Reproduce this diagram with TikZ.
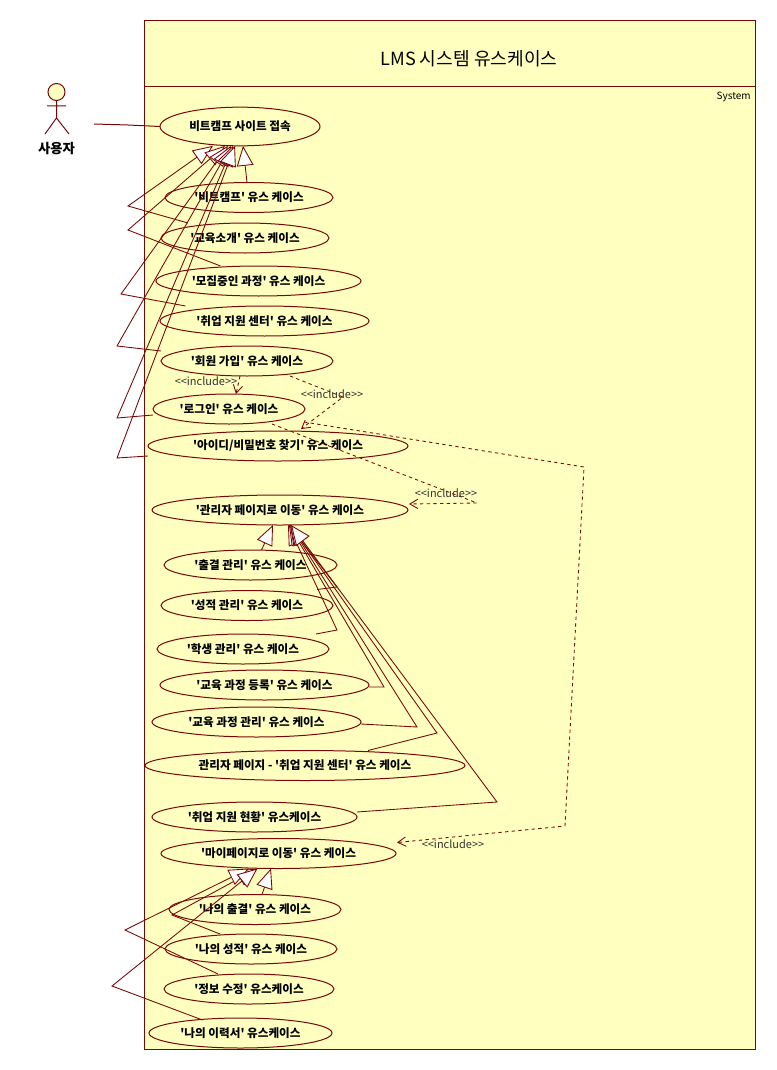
\documentclass[tikz,border=0pt]{standalone}
\usepackage{fontspec}
\setmainfont[Ligatures=TeXOff]{Noto Sans CJK KR}
\usetikzlibrary{arrows.meta,calc,shapes.geometric}
\definecolor{umlLine}{HTML}{780808}
\definecolor{umlFill}{HTML}{FFFFC0}
\tikzset{
	usecase/.style={ellipse, draw=umlLine, line width=.75pt, inner sep=0pt, outer sep=0pt, minimum height=22.5pt, minimum width=#1*1.5pt, font=\fontsize{8.7}{10}\selectfont\bfseries},
	stereo/.style={font=\fontsize{8.25}{10}\selectfont, inner sep=0pt, text=black!80},
	assoc/.style={draw=umlLine, line width=.75pt},
	gener/.style={draw=umlLine, line width=.65pt, -{Triangle[fill=white,length=15pt,width=12.5pt]}, line join=miter},
	incl/.style={draw=umlLine, line width=.65pt, dash pattern=on 2.5pt off 2.5pt, -{Straight Barb[length=6pt,width=7pt]}}
}
\begin{document}
\begin{tikzpicture}[x=.75pt,y=-.75pt]
	\useasboundingbox (0,0) rectangle (776,1070);
	% system boundary
	\draw [assoc, fill=umlFill] (144,21) rectangle (755,1049);
	\draw [assoc] (144,87) -- (755,87);
	\node (sysTitle) at (469,59) {\fontsize{13.6}{15}\selectfont LMS 시스템 유스케이스};
	\node (sysLabel) [anchor=east, inner sep=0pt, font=\fontsize{7.5}{9}\selectfont] at (751,97) {System};
	% actor
	\draw [assoc, fill=umlFill] (56.5,92) circle (8.5);
	\draw [assoc] (56.5,100.5) -- (56.5,118) (47,106) -- (66,106) (45,134) -- (56.5,118) -- (69,134);
	\node (userLabel) [font=\fontsize{10}{11}\selectfont\bfseries] at (56.5,149) {사용자};
	\coordinate (userEnd) at (94,124);
	% use cases
	\node (siteAccess) [usecase=80, minimum height=29pt] at (240,126.5) {비트캠프 사이트 접속};
	\node (bitcamp) [usecase=84] at (249,197.5) {'비트캠프' 유스 케이스};
	\node (eduIntro) [usecase=84] at (245,238) {'교육소개' 유스 케이스};
	\node (recruit) [usecase=102.5] at (258.5,281) {'모집중인 과정' 유스 케이스};
	\node (jobCenter) [usecase=104.5] at (264.5,321) {'취업 지원 센터' 유스 케이스};
	\node (join) [usecase=86] at (247,361) {'회원 가입' 유스 케이스};
	\node (login) [usecase=76] at (229,409) {'로그인' 유스 케이스};
	\node (findId) [usecase=130] at (278,446) {'아이디/비밀번호 찾기' 유스 케이스};
	\node (adminMove) [usecase=128] at (280,510) {'관리자 페이지로 이동' 유스 케이스};
	\node (attend) [usecase=86.5] at (250.5,565) {'출결 관리' 유스 케이스};
	\node (grade) [usecase=86] at (247,605.5) {'성적 관리' 유스 케이스};
	\node (student) [usecase=86] at (243,649) {'학생 관리' 유스 케이스};
	\node (courseReg) [usecase=104.5] at (264.5,685) {'교육 과정 등록' 유스 케이스};
	\node (courseMng) [usecase=104.5] at (256.5,722) {'교육 과정 관리' 유스 케이스};
	\node (adminJob) [usecase=160] at (305,765.5) {관리자 페이지 - '취업 지원 센터' 유스 케이스};
	\node (jobStatus) [usecase=102.5] at (254.5,817) {'취업 지원 현황' 유스케이스};
	\node (myPage) [usecase=117.5] at (278.5,853.5) {'마이페이지로 이동' 유스 케이스};
	\node (myAttend) [usecase=86] at (255,909.5) {'나의 출결' 유스 케이스};
	\node (myGrade) [usecase=86] at (251,949) {'나의 성적' 유스 케이스};
	\node (myInfo) [usecase=85] at (249,989) {'정보 수정' 유스케이스};
	\node (myResume) [usecase=91.5] at (240.5,1033) {'나의 이력서' 유스케이스};
	% actor link
	\draw [assoc] (userEnd) -- (128,125) -- (siteAccess.west);
	% generalisations to the site
	\draw [gener] ($(bitcamp.north)+(-2,0)$) -- ($(siteAccess.south)+(3,0)$);
	\draw [gener] ($(eduIntro.north)+(-57,0)$) -- (128,206) -- ($(siteAccess.south)+(-27,0)$);
	\draw [gener] ($(recruit.north)+(-38,0)$) -- (128,230) -- ($(siteAccess.south)+(-15,0)$);
	\draw [gener] ($(jobCenter.north)+(-79,0)$) -- (121,294) -- ($(siteAccess.south)+(-12,0)$);
	\draw [gener] ($(join.west)+(0,-10)$) -- (117,346) -- ($(siteAccess.south)+(-9,0)$);
	\draw [gener] ($(login.west)+(0,6)$) -- (117,418) -- ($(siteAccess.south)+(-7,0)$);
	\draw [gener] ($(findId.west)+(0,10)$) -- (117,458) -- ($(siteAccess.south)+(-5,0)$);
	% generalisations to the admin page
	\draw [gener] ($(attend.north)+(11,0)$) -- ($(adminMove.south)+(-7,0)$);
	\draw [gener] ($(grade.north)+(70,-1)$) -- (337,587) -- ($(adminMove.south)+(9,0)$);
	\draw [gener] ($(student.north)+(73,0)$) -- (337,630) -- ($(adminMove.south)+(8,0)$);
	\draw [gener] ($(courseReg.east)+(0,2)$) -- (384,687) -- ($(adminMove.south)+(9,0)$);
	\draw [gener] ($(courseMng.east)+(0,2)$) -- (417,727) -- ($(adminMove.south)+(10,0)$);
	\draw [gener] ($(adminJob.north)+(63,0)$) -- (437,733) -- ($(adminMove.south)+(10,0)$);
	\draw [gener] ($(jobStatus.east)+(0,-5)$) -- (497,802) -- ($(adminMove.south)+(11,0)$);
	% generalisations to my page
	\draw [gener] ($(myAttend.north)+(7,0)$) -- ($(myPage.south)+(-7.5,0)$);
	\draw [gener] ($(myGrade.north)+(-31,0)$) -- (172,915) -- ($(myPage.south)+(-21,0)$);
	\draw [gener] ($(myInfo.north)+(-31,0)$) -- (125,930) -- ($(myPage.south)+(-29.5,0)$);
	\draw [gener] ($(myResume.north)+(-38,2)$) -- (112,986) -- ($(myPage.south)+(-21,0)$);
	% includes
	\draw [incl] ($(join.south)+(-7,0)$) -- ($(login.north)+(7,0)$);
	\draw [incl] ($(join.south)+(43,0)$) -- (343,397) -- ($(findId.north)+(23,-2)$);
	\draw [incl] ($(login.south)+(43,0)$) -- (477,503) -- ($(adminMove.east)+(1,-6)$);
	\draw [incl] ($(findId.north)+(26,-9)$) -- (584,467) -- (565,826) -- ($(myPage.east)+(1,-11)$);
	\node (inclLogin) [stereo] at (206,381) {<{}<include>{}>};
	\node (inclFind) [stereo] at (332,394) {<{}<include>{}>};
	\node (inclAdmin) [stereo] at (446,493) {<{}<include>{}>};
	\node (inclMy) [stereo] at (453,844) {<{}<include>{}>};
\end{tikzpicture}
\end{document}
